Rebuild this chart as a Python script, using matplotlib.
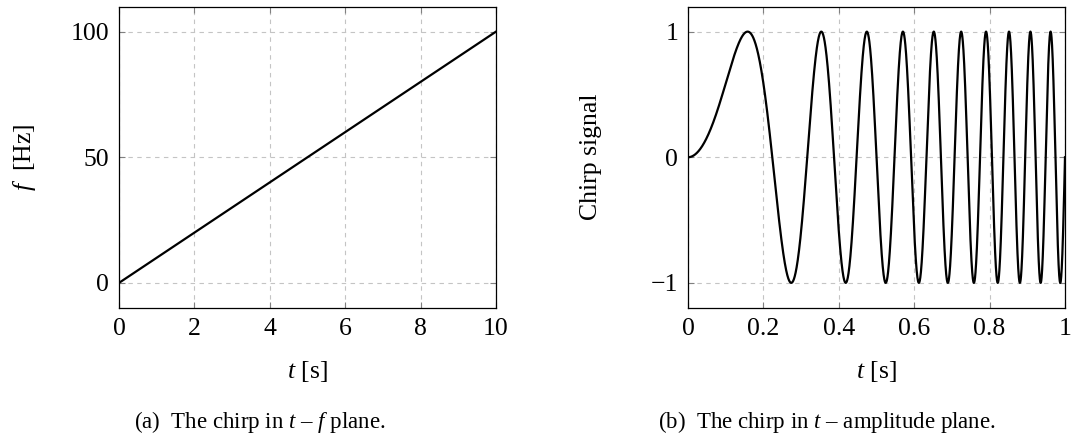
import numpy as np
import matplotlib
matplotlib.use("Agg")
import matplotlib.pyplot as plt

plt.rcParams['font.family'] = ['Liberation Serif', 'DejaVu Serif']
plt.rcParams['mathtext.fontset'] = 'custom'
plt.rcParams['mathtext.rm'] = 'Liberation Serif'
plt.rcParams['mathtext.it'] = 'Liberation Serif:italic'

# left panel: instantaneous frequency
t_pts = [0, 10]
f_pts = [0, 100]
left_xticks = [0, 2, 4, 6, 8, 10]
left_yticks = [0, 50, 100]

# right panel: chirp built from the frequency line above
right_xticks = [0, 0.2, 0.4, 0.6, 0.8, 1]
right_xlabels = ['0', '0.2', '0.4', '0.6', '0.8', '1']
right_yticks = [-1, 0, 1]

t_fine = np.linspace(0, 1, 3000)
f_inst = np.interp(t_fine, t_pts, f_pts)
chirp = np.sin(2 * np.pi * f_inst * t_fine)

fig = plt.figure(figsize=(10.73, 4.37), dpi=100)
W, H = 1073, 437
ax1 = fig.add_axes([119 / W, 1 - 308 / H, (496 - 119) / W, (308 - 6.5) / H])
ax2 = fig.add_axes([688 / W, 1 - 308 / H, (1065 - 688) / W, (308 - 6.5) / H])


def style(ax):
    ax.grid(True, color='#c4c4c4', linestyle=(0, (4, 4)), linewidth=0.8)
    ax.set_axisbelow(True)
    ax.tick_params(direction='in', length=4.3, width=0.8, color='#808080',
                   top=True, right=True, labelsize=18.5)
    ax.tick_params(axis='x', pad=7)
    ax.tick_params(axis='y', pad=7)
    for s in ax.spines.values():
        s.set_linewidth(0.9)


ax1.plot(t_pts, f_pts, color='black', linewidth=1.6)
ax1.set_xlim(0, 10)
ax1.set_ylim(-10, 110)
ax1.set_xticks(left_xticks)
ax1.set_yticks(left_yticks)
ax1.set_xlabel(r'$t$ [s]', fontsize=18.5)
ax1.set_ylabel(r'$f$  [Hz]', fontsize=18.5)
style(ax1)

ax2.plot(t_fine, chirp, color='black', linewidth=1.6)
ax2.set_xlim(0, 1)
ax2.set_ylim(-1.2, 1.2)
ax2.set_xticks(right_xticks)
ax2.set_xticklabels(right_xlabels)
ax2.set_yticks(right_yticks)
ax2.set_xlabel(r'$t$ [s]', fontsize=18.5)
ax2.set_ylabel('Chirp signal', fontsize=18.5)
style(ax2)

# place axis labels at the measured pixel positions
for ax, x0, x1, ylab_x in [(ax1, 119, 496, 25), (ax2, 688, 1065, 591)]:
    w = x1 - x0
    ax.xaxis.set_label_coords(0.5, -(372 - 308) / 301.5)
    ax.xaxis.label.set_va('center')
    ax.yaxis.set_label_coords((ylab_x - x0) / w, 0.5)
    ax.yaxis.label.set_va('center')

fig.text(260 / W, 1 - 422 / H, r'(a)  The chirp in $t$ – $f$ plane.',
         ha='center', va='center', fontsize=16.5)
fig.text(827 / W, 1 - 422 / H, r'(b)  The chirp in $t$ – amplitude plane.',
         ha='center', va='center', fontsize=16.5)

fig.savefig('out.png', dpi=100)
